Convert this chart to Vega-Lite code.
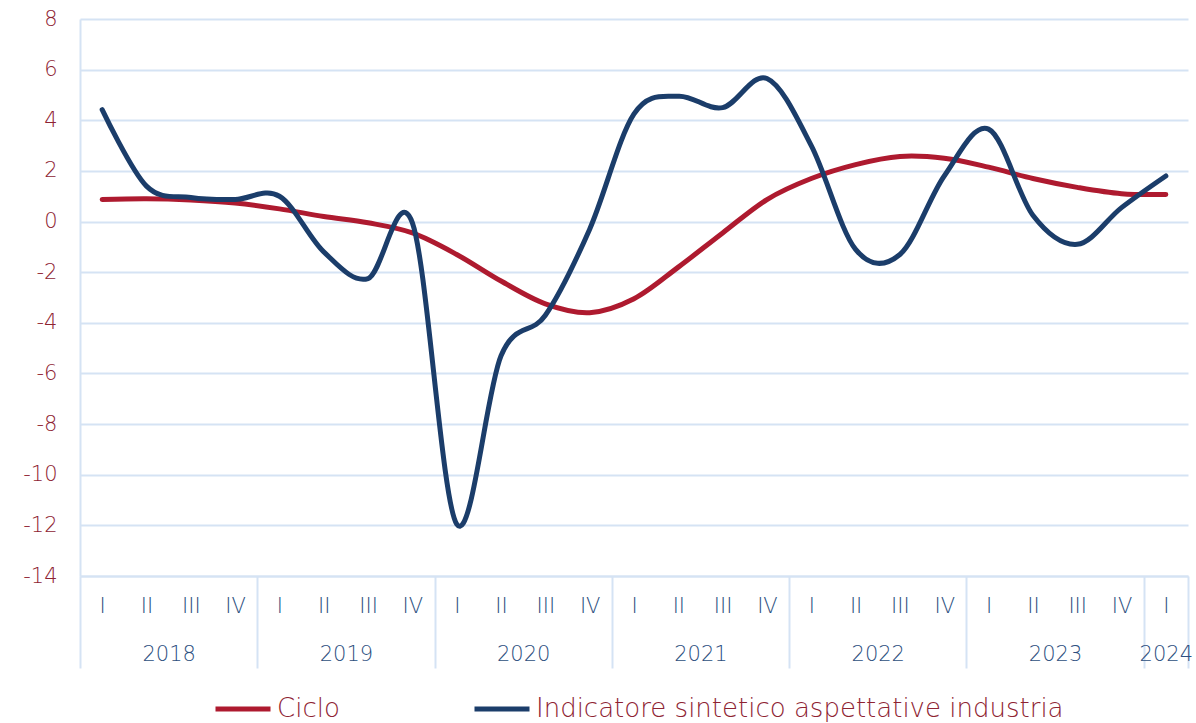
{
  "$schema": "https://vega.github.io/schema/vega-lite/v6.json",
  "width": 1108,
  "height": 557,
  "autosize": {"type": "none"},
  "padding": {"left": 80, "top": 19, "right": 8, "bottom": 147},
  "background": "white",
  "config": {
    "view": {"stroke": null},
    "font": "DejaVu Sans",
    "axis": {"labelFont": "DejaVu Sans", "labelFontWeight": 200},
    "legend": {"labelFont": "DejaVu Sans", "labelFontWeight": 200}
  },
  "data": {
    "values": [
      {"anno": 2018, "trim": "I", "t": 0.5, "serie": "Ciclo", "v": 0.87},
      {"anno": 2018, "trim": "II", "t": 1.5, "serie": "Ciclo", "v": 0.9},
      {"anno": 2018, "trim": "III", "t": 2.5, "serie": "Ciclo", "v": 0.85},
      {"anno": 2018, "trim": "IV", "t": 3.5, "serie": "Ciclo", "v": 0.73},
      {"anno": 2019, "trim": "I", "t": 4.5, "serie": "Ciclo", "v": 0.5},
      {"anno": 2019, "trim": "II", "t": 5.5, "serie": "Ciclo", "v": 0.2},
      {"anno": 2019, "trim": "III", "t": 6.5, "serie": "Ciclo", "v": -0.05},
      {"anno": 2019, "trim": "IV", "t": 7.5, "serie": "Ciclo", "v": -0.45},
      {"anno": 2020, "trim": "I", "t": 8.5, "serie": "Ciclo", "v": -1.3},
      {"anno": 2020, "trim": "II", "t": 9.5, "serie": "Ciclo", "v": -2.35},
      {"anno": 2020, "trim": "III", "t": 10.5, "serie": "Ciclo", "v": -3.25},
      {"anno": 2020, "trim": "IV", "t": 11.5, "serie": "Ciclo", "v": -3.6},
      {"anno": 2021, "trim": "I", "t": 12.5, "serie": "Ciclo", "v": -3.05},
      {"anno": 2021, "trim": "II", "t": 13.5, "serie": "Ciclo", "v": -1.8},
      {"anno": 2021, "trim": "III", "t": 14.5, "serie": "Ciclo", "v": -0.45},
      {"anno": 2021, "trim": "IV", "t": 15.5, "serie": "Ciclo", "v": 0.87},
      {"anno": 2022, "trim": "I", "t": 16.5, "serie": "Ciclo", "v": 1.7},
      {"anno": 2022, "trim": "II", "t": 17.5, "serie": "Ciclo", "v": 2.25},
      {"anno": 2022, "trim": "III", "t": 18.5, "serie": "Ciclo", "v": 2.57},
      {"anno": 2022, "trim": "IV", "t": 19.5, "serie": "Ciclo", "v": 2.5},
      {"anno": 2023, "trim": "I", "t": 20.5, "serie": "Ciclo", "v": 2.15},
      {"anno": 2023, "trim": "II", "t": 21.5, "serie": "Ciclo", "v": 1.7},
      {"anno": 2023, "trim": "III", "t": 22.5, "serie": "Ciclo", "v": 1.35},
      {"anno": 2023, "trim": "IV", "t": 23.5, "serie": "Ciclo", "v": 1.1},
      {"anno": 2024, "trim": "I", "t": 24.5, "serie": "Ciclo", "v": 1.07},
      {"anno": 2018, "trim": "I", "t": 0.5, "serie": "Indicatore sintetico aspettative industria", "v": 4.42},
      {"anno": 2018, "trim": "II", "t": 1.5, "serie": "Indicatore sintetico aspettative industria", "v": 1.4},
      {"anno": 2018, "trim": "III", "t": 2.5, "serie": "Indicatore sintetico aspettative industria", "v": 0.95},
      {"anno": 2018, "trim": "IV", "t": 3.5, "serie": "Indicatore sintetico aspettative industria", "v": 0.87},
      {"anno": 2019, "trim": "I", "t": 4.5, "serie": "Indicatore sintetico aspettative industria", "v": 1.0},
      {"anno": 2019, "trim": "II", "t": 5.5, "serie": "Indicatore sintetico aspettative industria", "v": -1.2},
      {"anno": 2019, "trim": "III", "t": 6.5, "serie": "Indicatore sintetico aspettative industria", "v": -2.25},
      {"anno": 2019, "trim": "IV", "t": 7.5, "serie": "Indicatore sintetico aspettative industria", "v": -0.05},
      {"anno": 2020, "trim": "I", "t": 8.5, "serie": "Indicatore sintetico aspettative industria", "v": -11.95},
      {"anno": 2020, "trim": "II", "t": 9.5, "serie": "Indicatore sintetico aspettative industria", "v": -5.3},
      {"anno": 2020, "trim": "III", "t": 10.5, "serie": "Indicatore sintetico aspettative industria", "v": -3.7},
      {"anno": 2020, "trim": "IV", "t": 11.5, "serie": "Indicatore sintetico aspettative industria", "v": -0.3},
      {"anno": 2021, "trim": "I", "t": 12.5, "serie": "Indicatore sintetico aspettative industria", "v": 4.25},
      {"anno": 2021, "trim": "II", "t": 13.5, "serie": "Indicatore sintetico aspettative industria", "v": 4.95},
      {"anno": 2021, "trim": "III", "t": 14.5, "serie": "Indicatore sintetico aspettative industria", "v": 4.5},
      {"anno": 2021, "trim": "IV", "t": 15.5, "serie": "Indicatore sintetico aspettative industria", "v": 5.65},
      {"anno": 2022, "trim": "I", "t": 16.5, "serie": "Indicatore sintetico aspettative industria", "v": 3.0},
      {"anno": 2022, "trim": "II", "t": 17.5, "serie": "Indicatore sintetico aspettative industria", "v": -1.1},
      {"anno": 2022, "trim": "III", "t": 18.5, "serie": "Indicatore sintetico aspettative industria", "v": -1.3},
      {"anno": 2022, "trim": "IV", "t": 19.5, "serie": "Indicatore sintetico aspettative industria", "v": 1.8},
      {"anno": 2023, "trim": "I", "t": 20.5, "serie": "Indicatore sintetico aspettative industria", "v": 3.65},
      {"anno": 2023, "trim": "II", "t": 21.5, "serie": "Indicatore sintetico aspettative industria", "v": 0.25},
      {"anno": 2023, "trim": "III", "t": 22.5, "serie": "Indicatore sintetico aspettative industria", "v": -0.9},
      {"anno": 2023, "trim": "IV", "t": 23.5, "serie": "Indicatore sintetico aspettative industria", "v": 0.55},
      {"anno": 2024, "trim": "I", "t": 24.5, "serie": "Indicatore sintetico aspettative industria", "v": 1.8}
    ]
  },
  "resolve": {"scale": {"x": "independent"}, "axis": {"x": "independent"}},
  "layer": [
    {
      "mark": {"type": "line", "interpolate": "cardinal", "strokeWidth": 5, "strokeCap": "round"},
      "encoding": {
        "x": {
          "field": "t", "type": "quantitative",
          "scale": {"domain": [0, 25], "nice": false, "zero": false},
          "axis": {
            "orient": "bottom", "title": null,
            "values": [0.5,1.5,2.5,3.5,4.5,5.5,6.5,7.5,8.5,9.5,10.5,11.5,12.5,13.5,14.5,15.5,16.5,17.5,18.5,19.5,20.5,21.5,22.5,23.5,24.5],
            "labelExpr": "['I','II','III','IV'][floor(datum.value) % 4]",
            "ticks": false, "tickSize": 0, "grid": false,
            "domain": true, "domainColor": "#D5E3F4", "domainWidth": 2,
            "labelFontSize": 21, "labelColor": "#2D4F80", "labelPadding": 19,
            "labelOverlap": false, "labelBound": false, "labelFlush": false
          }
        },
        "y": {
          "field": "v", "type": "quantitative",
          "scale": {"domain": [-14, 8], "nice": false, "zero": false},
          "axis": {
            "title": null,
            "values": [-14,-12,-10,-8,-6,-4,-2,0,2,4,6,8],
            "labelExpr": "'' + datum.value",
            "ticks": false, "tickSize": 0,
            "grid": true, "gridColor": "#D5E3F4", "gridWidth": 2,
            "domain": true, "domainColor": "#D5E3F4", "domainWidth": 2,
            "labelFontSize": 21, "labelColor": "#8E2332", "labelPadding": 23
          }
        },
        "color": {
          "field": "serie", "type": "nominal",
          "scale": {"domain": ["Ciclo", "Indicatore sintetico aspettative industria"], "range": ["#AE1A2F", "#1B3D6A"]},
          "legend": {
            "title": null, "orient": "none", "direction": "horizontal",
            "legendX": 133, "legendY": 660,
            "symbolType": "stroke", "symbolSize": 3025, "symbolStrokeWidth": 5,
            "labelFontSize": 26, "labelColor": "#8E2332", "labelLimit": 1000,
            "labelOffset": 4, "columnPadding": 124
          }
        }
      }
    },
    {
      "mark": {"type": "point", "opacity": 0},
      "encoding": {
        "x": {
          "field": "t", "type": "quantitative",
          "scale": {"domain": [0, 25], "nice": false, "zero": false},
          "axis": {
            "orient": "bottom", "title": null,
            "values": [0, 4, 8, 12, 16, 20, 24, 25],
            "labels": false, "grid": false, "domain": false,
            "ticks": true, "tickSize": 92, "tickColor": "#D5E3F4", "tickWidth": 2
          }
        }
      }
    },
    {
      "mark": {"type": "point", "opacity": 0},
      "encoding": {
        "x": {
          "field": "t", "type": "quantitative",
          "scale": {"domain": [0, 25], "nice": false, "zero": false},
          "axis": {
            "orient": "bottom", "title": null,
            "values": [2, 6, 10, 14, 18, 22, 24.5],
            "labelExpr": "'' + (2018 + floor(datum.value / 4))",
            "ticks": false, "tickSize": 0, "grid": false, "domain": false,
            "labelFontSize": 21, "labelColor": "#2D4F80", "labelPadding": 67,
            "labelOverlap": false, "labelBound": false, "labelFlush": false
          }
        }
      }
    }
  ]
}
